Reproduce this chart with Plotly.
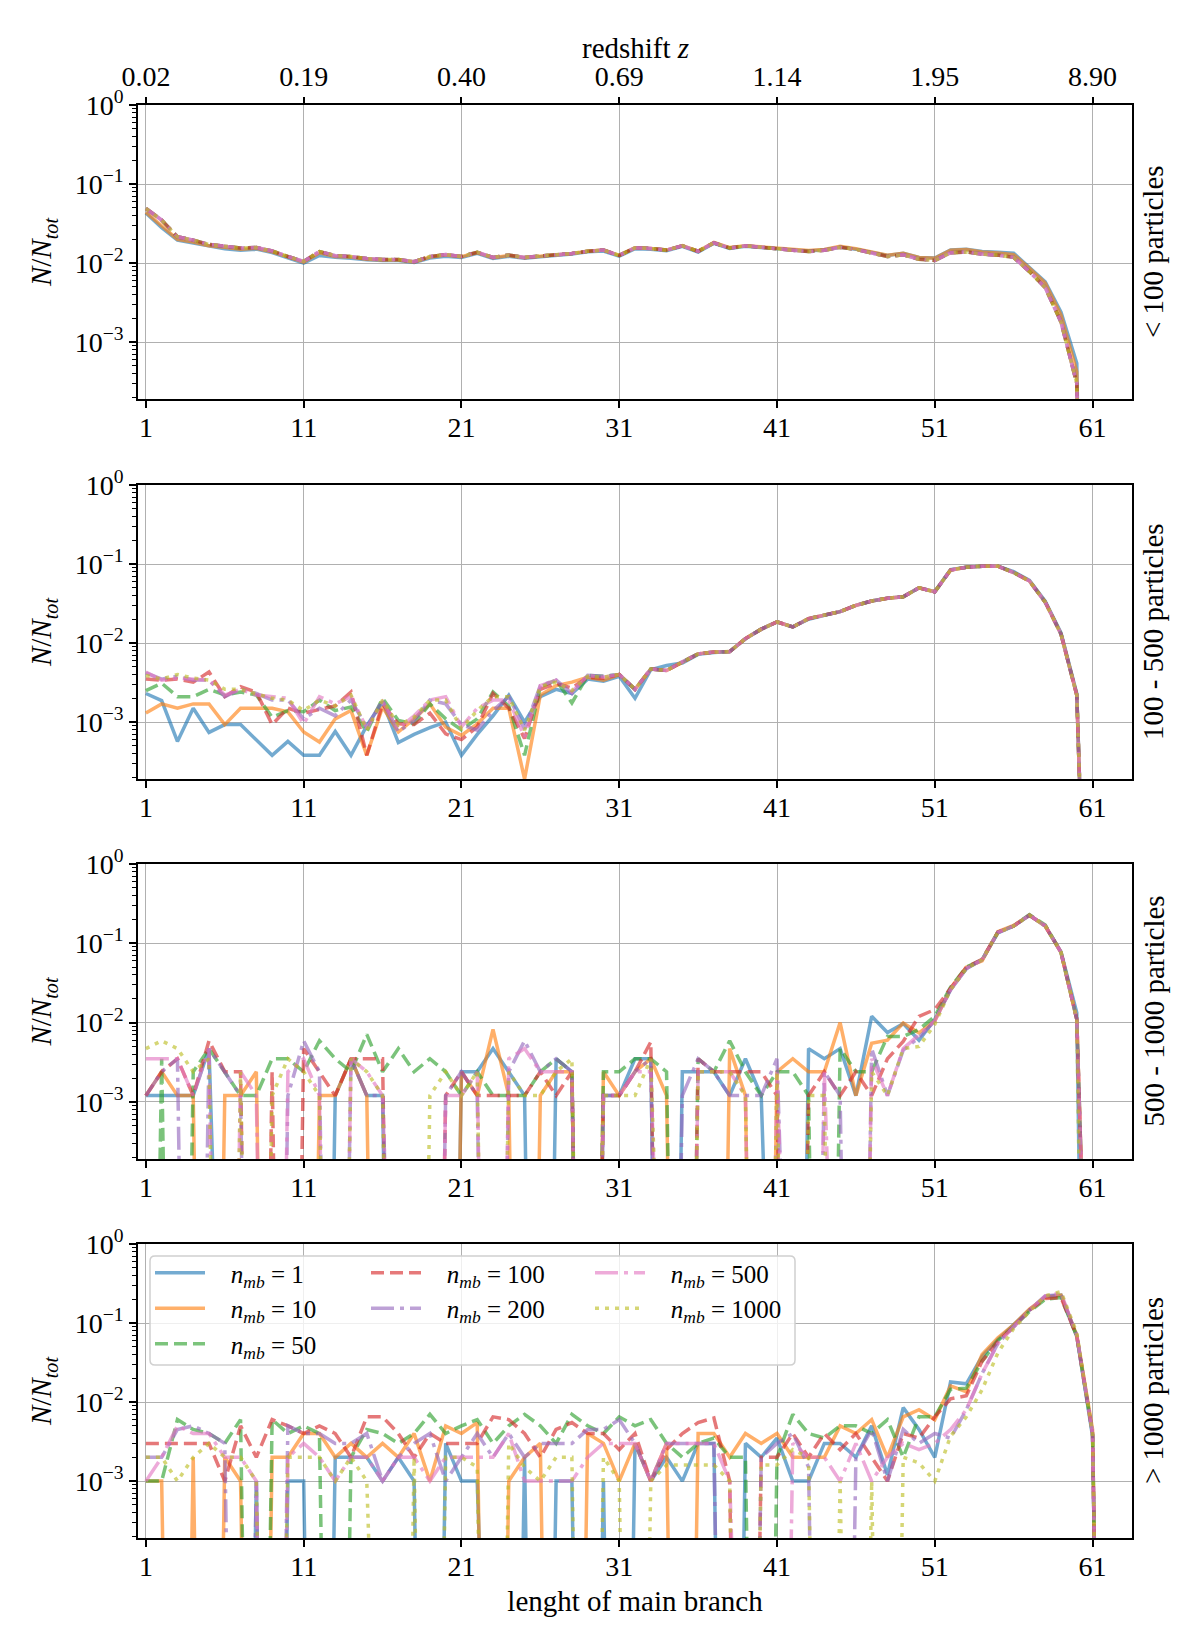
import plotly.graph_objects as go

# ---------------- data ----------------
x_len = list(range(1, 63))
x_ticks = [1, 11, 21, 31, 41, 51, 61]
z_labels = ["0.02", "0.19", "0.40", "0.69", "1.14", "1.95", "8.90"]
series_names = ["1", "10", "50", "100", "200", "500", "1000"]
bin_labels = ["&lt; 100 particles", "100 - 500 particles",
              "500 - 1000 particles", "&gt; 1000 particles"]

# panel 1 : < 100 particles
p1_n1 = [.043, .028, .0195, .018, .0163, .0152, .0145, .015, .0136, .0118,
         .0100, .0125, .0118, .0115, .0110, .0108, .0108, .0102, .0116, .0122,
         .0118, .0133, .0114, .0122, .0115, .0120, .0124, .0130, .0139, .0142,
         .0122, .0152, .0150, .0143, .0163, .0138, .0178, .0153, .0163, .0158,
         .0152, .0147, .0142, .0147, .0160, .0150, .0137, .0125, .0133, .0118,
         .0116, .0146, .0150, .0140, .0137, .0133, .0088, .0058, .0024, .00054,
         0, 0]
p1_n10 = [.044, .030, .0200, .0185, .0166, .0158, .0150, .0154, .0139, .0120,
          .0103, .0135, .0121, .0119, .0112, .0109, .0109, .0103, .0119, .0126,
          .0120, .0136, .0117, .0125, .0117, .0122, .0126, .0132, .0141, .0146,
          .0125, .0156, .0153, .0146, .0166, .0141, .0182, .0157, .0166, .0161,
          .0155, .0149, .0144, .0149, .0163, .0152, .0138, .0126, .0133, .0118,
          .0115, .0145, .0148, .0138, .0134, .0128, .0086, .0056, .0022, .00042,
          0, 0]
p1_rest = [.049, .035, .0215, .0195, .0172, .0162, .0155, .0157, .0142, .0121,
           .0105, .0140, .0124, .0121, .0114, .0111, .0111, .0104, .0121, .0128,
           .0121, .0137, .0118, .0126, .0118, .0123, .0126, .0132, .0141, .0146,
           .0125, .0156, .0153, .0146, .0165, .0141, .0180, .0155, .0165, .0160,
           .0152, .0145, .0140, .0145, .0158, .0149, .0133, .0121, .0127, .0112,
           .0108, .0135, .0138, .0130, .0126, .0118, .0078, .0049, .0018, .00030,
           0, 0]

# panel 2 : 100 - 500 particles (x = 1..30 per series, x = 31..62 tail)
p2_head_n1 = [.0023, .00187, .00057, .0015, .00074, .00093, .00093, .00059, .00038, .00057,
              .00038, .00038, .00076, .00038, .0009, .0018, .00055, .0007, .00085, .001,
              .00038, .0007, .0012, .0022, .001, .0021, .0026, .0023, .0035, .0033]
p2_head_n10 = [.0013, .0017, .0015, .0017, .0017, .00093, .0015, .0015, .0015, .00135,
               .00075, .00056, .0011, .0014, .00038, .00155, .00075, .0011, .0017, .00086,
               .00068, .00095, .0015, .0015, .00019, .0022, .0029, .0032, .0037, .0034]
p2_head_n50 = [.0025, .0031, .0021, .0021, .0026, .0022, .0024, .0022, .00115, .0014,
               .00135, .0019, .0014, .00155, .00075, .002, .00105, .00095, .0017, .0011,
               .0008, .0011, .0024, .0016, .00038, .0028, .0034, .00175, .0039, .0038]
p2_head_n100 = [.0035, .0034, .0035, .0032, .0043, .0021, .0028, .0024, .00093, .0015,
                .0013, .00145, .0016, .0024, .00038, .0017, .00095, .00093, .0013, .00071,
                .0006, .00087, .0023, .0015, .00062, .0026, .0031, .0027, .0037, .0036]
p2_head_n200 = [.0042, .0035, .0038, .0034, .0034, .0021, .0026, .0023, .0019, .0019,
                .0011, .0015, .0012, .0019, .00086, .0019, .00075, .00105, .0019, .0017,
                .00093, .00079, .0014, .0021, .00082, .0029, .0034, .0023, .0039, .0038]
p2_head_n500 = [.0043, .0034, .0036, .0035, .0034, .0022, .0026, .0022, .0021, .002,
                .00095, .0021, .0017, .0021, .00083, .0018, .00083, .0012, .0019, .0021,
                .00087, .0015, .0019, .0019, .00065, .0029, .0034, .0024, .0039, .0037]
p2_head_n1000 = [.0039, .0035, .004, .0036, .0034, .0026, .0026, .0023, .002, .0019,
                 .0014, .0019, .0016, .0022, .00079, .0019, .00091, .00115, .0019, .0019,
                 .00083, .0014, .0021, .0021, .00079, .0028, .0032, .0025, .0038, .0037]
p2_tail_n1 = [.0038, .0020, .0046, .0052, .0056, .0072, .0076, .0078, .0113, .0150,
              .0185, .0160, .0200, .0225, .0250, .0300, .0340, .0370, .0385, .0500,
              .0445, .0850, .0910, .0940, .0940, .0800, .0620, .0340, .0135, .0023,
              0, 0]
p2_tail = [.0040, .0026, .0047, .0045, .0058, .0073, .0077, .0078, .0114, .0150,
           .0185, .0160, .0204, .0225, .0250, .0300, .0340, .0370, .0385, .0500,
           .0445, .0840, .0910, .0940, .0940, .0780, .0610, .0330, .0130, .0022,
           0, 0]

# panel 3 : 500 - 1000 particles
p3_n1 = [.0012, .0012, .0012, .0012, .0047, 0, 0, 0, 0, 0,
         0, 0, .0012, .0035, .0012, .0012, 0, 0, 0, 0,
         .0024, .0024, .0047, .0024, .0012, 0, .0035, .0024, 0, .0012,
         .0012, .0035, .0035, 0, .0024, .0024, .0024, .0012, .0035, .0012,
         0, 0, .0047, .0035, .0047, .0012, .012, .0075, .0097, .006,
         .011, .026, .048, .062, .135, .165, .225, .165, .078, .0133,
         0, 0]
p3_n10 = [.0012, .0024, .0012, .0012, 0, .0012, .0012, .0024, 0, 0,
          0, .0012, .0012, .0035, .0012, 0, 0, 0, 0, 0,
          .0024, .0012, .0082, .0012, 0, .0012, .0024, .0024, 0, .0024,
          .0012, .0024, .0035, .0012, 0, 0, 0, .0047, .0012, 0,
          .0024, .0035, .0024, .0024, .010, .0012, .0055, .006, .0099, .0074,
          .0105, .027, .05, .06, .14, .168, .225, .165, .077, .011,
          0, 0]
p3_n50 = [0, .0035, 0, .0024, .0047, .0024, .0012, .0012, .0035, .0035,
          .0024, .0059, .0035, .0024, .0071, .0024, .0047, .0024, .0035, .0024,
          .0012, .0024, .0012, .0012, .0012, .0024, .0035, .0024, 0, .0024,
          .0024, .0035, .0035, .0024, 0, .0035, .0024, .0059, .0024, .0012,
          .0024, .0024, .0012, 0, .0047, .0024, .0024, .0067, .0067, .0082,
          .012, .028, .05, .062, .138, .165, .23, .17, .077, .011,
          0, 0]
p3_n100 = [.0012, .0024, .0035, .0012, .0059, .0024, .0024, 0, .0024, 0,
           .0047, .0024, .0012, .0035, .0035, .0035, 0, 0, 0, .0012,
           .0024, .0012, .0012, .0012, .0012, .0024, .0012, .0024, 0, .0012,
           .0012, .0024, .0057, 0, 0, .0035, .0024, .0024, .0024, .0024,
           .0012, 0, .0012, .0024, .0012, .0024, .0012, .0035, .0058, .012,
           .0146, .027, .05, .063, .138, .165, .226, .166, .077, .011,
           0, 0]
p3_n200 = [.0012, .0024, .0035, 0, .0047, .0024, .0012, 0, 0, .0012,
           .0059, .0024, 0, .0035, .0012, .0012, 0, 0, 0, .0012,
           .0024, .0012, 0, .0024, .0059, .0024, .0035, .0024, 0, .0012,
           .0012, .0024, .0035, 0, .0012, .0035, .0024, .0012, .0012, .0012,
           .0035, 0, 0, .0024, .0012, 0, .0047, .0012, .0045, .0065,
           .0105, .026, .048, .062, .137, .165, .227, .166, .077, .011,
           0, 0]
p3_n500 = [.0035, .0035, .0035, .0012, .0047, 0, .0024, .0012, 0, .0024,
           .0035, .0012, 0, .0035, .0024, .0012, 0, 0, 0, .0012,
           .0012, .0024, 0, .0035, .0047, .0024, .0024, .0024, 0, .0012,
           .0012, .0024, .0024, 0, 0, .0024, .0024, .0024, .0012, 0,
           .0024, 0, 0, .0024, 0, 0, .0035, .0012, .0047, .007,
           .0105, .026, .048, .062, .137, .165, .226, .166, .077, .011,
           0, 0]
p3_n1000 = [.0047, .0059, .0047, .0024, .0035, 0, .0024, 0, .0012, .0035,
            .0024, .0012, 0, .0035, .0024, .0012, 0, 0, .0012, .0024,
            .0012, .0024, 0, .0024, .0012, .0012, .0024, .0035, 0, .0012,
            .0012, .0012, .0035, 0, 0, .0024, .0024, .0024, .0012, 0,
            .0024, 0, .0012, .0012, 0, 0, .0024, .0012, .0047, .005,
            .0095, .026, .048, .062, .137, .165, .226, .166, .077, .011,
            0, 0]

# panel 4 : > 1000 particles
p4_n1 = [0, 0, 0, 0, 0, 0, 0, .001, 0, .001,
         .001, 0, .002, .002, .002, .001, .002, .001, 0, .003,
         .001, .001, 0, 0, .002, 0, .001, .001, 0, .001,
         0, .003, .001, .002, .001, .003, .003, 0, .003, .002,
         .0035, .001, .001, .003, .003, .002, .005, .0012, .0085, .0045,
         .002, .018, .017, .038, .062, .095, .147, .215, .225, .068,
         .0037, 0]
p4_n10 = [.001, .001, 0, .002, 0, .002, .001, 0, .002, .002,
          .004, .004, .002, .003, .002, .003, .002, .004, .001, .005,
          .004, .0055, 0, .001, .002, .003, 0, 0, .004, .003,
          .001, .003, .001, .003, 0, .004, .004, .002, .004, .003,
          .004, .002, .002, .002, .005, .004, .006, .002, .0065, .008,
          .006, .016, .0135, .04, .065, .095, .15, .21, .225, .07,
          .0045, 0]
p4_n50 = [.001, .001, .006, .0045, .004, .003, .006, 0, .006, .004,
          .005, .004, 0, .002, .0045, .004, .003, .004, .007, .004,
          .005, .006, .003, .005, .007, .005, .003, .007, .005, .004,
          .0065, .005, .006, .003, .002, .003, .0035, .002, .002, 0,
          .002, .007, .004, .0035, .005, .005, .004, .006, .002, .0065,
          .0065, .0145, .015, .033, .06, .09, .14, .2, .21, .068,
          .004, 0]
p4_n100 = [.003, .003, .003, .003, .003, .001, .005, .002, .006, .005,
           .004, .005, .004, .002, .0065, .0065, .004, .002, .004, .003,
           .003, .003, .0065, .006, .004, .002, .0045, .0055, .004, .004,
           .0025, .004, .001, .0025, .004, .0055, .0063, .001, 0, .002,
           .002, .004, .002, .004, .0025, .004, .002, .001, .004, .0035,
           .0065, .011, .012, .033, .058, .09, .145, .205, .21, .068,
           .004, 0]
p4_n200 = [.002, .002, .0045, .005, .004, .003, 0, .001, 0, .005,
           .004, .004, .003, .003, .004, .001, .002, .003, .004, .001,
           .002, .004, .002, .004, .002, .003, .003, .003, .0045, .0045,
           .006, .003, .001, .003, .003, .003, .003, 0, 0, .002,
           .003, .004, .0015, 0, 0, .002, .0045, .001, .0045, .003,
           .004, .0035, .008, .023, .055, .09, .145, .22, .23, .07,
           .004, 0]
p4_n500 = [.001, .002, .005, .004, .004, .002, .002, .001, 0, .002,
           .003, .002, .001, .002, .002, .001, .002, .002, .001, .002,
           .002, .002, .002, .004, .001, .001, .001, .001, .002, .003,
           .003, .003, .001, .003, .003, .003, .003, .001, 0, 0,
           0, .003, .002, .002, .001, .003, .001, .002, .003, .0025,
           .003, .0045, .008, .023, .055, .09, .145, .22, .24, .07,
           .004, 0]
p4_n1000 = [.002, .002, .001, .002, .003, .002, .002, .001, 0, .002,
            .002, .002, .001, .002, .001, 0, 0, .002, 0, .002,
            .002, .0015, 0, .003, .0015, .001, .002, .002, 0, .002,
            .001, 0, .001, .0016, .0016, .0016, .0016, .001, 0, .0016,
            .0016, .0025, .002, 0, .001, 0, .001, 0, .002, .0017,
            .001, .0037, .0065, .0143, .042, .085, .14, .22, .25, .075,
            .004, 0]

panels = [
    [p1_n1, p1_n10, p1_rest, p1_rest, p1_rest, p1_rest, p1_rest],
    [p2_head_n1 + p2_tail_n1, p2_head_n10 + p2_tail, p2_head_n50 + p2_tail,
     p2_head_n100 + p2_tail, p2_head_n200 + p2_tail, p2_head_n500 + p2_tail,
     p2_head_n1000 + p2_tail],
    [p3_n1, p3_n10, p3_n50, p3_n100, p3_n200, p3_n500, p3_n1000],
    [p4_n1, p4_n10, p4_n50, p4_n100, p4_n200, p4_n500, p4_n1000],
]

# ---------------- style ----------------
colors = ["#1f77b4", "#ff7f0e", "#2ca02c", "#d62728", "#9467bd", "#e377c2", "#bcbd22"]
dashes = ["solid", "solid", "13px,6px", "13px,6px", "23px,6px,4px,6px",
          "23px,6px,4px,6px", "4px,6px"]
legend_of = ["legend", "legend", "legend", "legend2", "legend2", "legend3", "legend3"]
FONT = "Liberation Serif"
FS = 28       # tick labels
FS_T = 29     # titles / side labels
W, H = 1200, 1650
FLOOR = 1e-15  # matplotlib clips non-positive values on a log axis

panel_px = [(105, 399), (485, 779), (864, 1159), (1244, 1538)]
x_dom = [138 / W, 1132 / W]
x_range = [0.5, 63.5]
y_range = [-3.72, 0]

fig = go.Figure()
for p, data in enumerate(panels):
    for s, vals in enumerate(data):
        yv = [v if v > 0 else FLOOR for v in vals]
        fig.add_trace(go.Scatter(
            x=x_len, y=yv, mode="lines",
            xaxis="x" if p == 0 else f"x{p+1}",
            yaxis="y" if p == 0 else f"y{p+1}",
            line=dict(color=colors[s], width=3.5, dash=dashes[s]),
            opacity=0.62,
            name=f"\u2002\u2004<i>n</i><sub><i>mb</i></sub> = {series_names[s]}",
            showlegend=(p == 3),
            legend=legend_of[s],
            hoverinfo="skip",
        ))

# invisible helper so the top redshift axis is rendered
fig.add_trace(go.Scatter(x=x_ticks, y=[p1_rest[t - 1] for t in x_ticks],
                         xaxis="x5", yaxis="y", mode="markers",
                         marker=dict(opacity=0), showlegend=False,
                         hoverinfo="skip"))

minor_vals = [m * 10 ** e for e in range(-4, 0) for m in range(2, 10)]
tick_font = dict(family=FONT, size=FS, color="black")
layout = dict(
    width=W, height=H,
    margin=dict(l=0, r=0, t=0, b=0),
    paper_bgcolor="white", plot_bgcolor="white",
    font=dict(family=FONT, size=FS, color="black"),
    showlegend=True,
)
for p, (top, bot) in enumerate(panel_px):
    k = "" if p == 0 else str(p + 1)
    ydom = [1 - bot / H, 1 - top / H]
    layout[f"xaxis{k}"] = dict(
        domain=x_dom, range=x_range, anchor=f"y{k}",
        tickmode="array", tickvals=x_ticks, ticktext=[str(t) for t in x_ticks],
        ticks="outside", ticklen=7, tickwidth=1.6, tickcolor="black",
        ticklabelstandoff=-5,
        showline=True, linecolor="black", linewidth=1.8, mirror=True,
        showgrid=True, gridcolor="#b0b0b0", gridwidth=1.4, zeroline=False,
        tickfont=tick_font, automargin=False,
    )
    layout[f"yaxis{k}"] = dict(
        domain=ydom, type="log", range=y_range, anchor=f"x{k}",
        tickmode="array", tickvals=[1, 0.1, 0.01, 0.001],
        ticktext=["10<sup>0</sup>", "10<sup>−1</sup>", "10<sup>−2</sup>", "10<sup>−3</sup>"],
        ticks="outside", ticklen=7, tickwidth=1.6, tickcolor="black",
        minor=dict(tickmode="array", tickvals=minor_vals, ticks="outside",
                   ticklen=4, tickwidth=1.2, tickcolor="black", showgrid=False),
        showline=True, linecolor="black", linewidth=1.8, mirror=True,
        showgrid=True, gridcolor="#b0b0b0", gridwidth=1.4, zeroline=False,
        tickfont=tick_font, automargin=False,
        title=dict(text="<i>N</i>/<i>N</i><sub><i>tot</i></sub>",
                   font=dict(family=FONT, size=FS_T), standoff=14),
    )
layout["xaxis4"]["title"] = dict(text="lenght of main branch",
                                 font=dict(family=FONT, size=FS_T), standoff=10)
layout["xaxis5"] = dict(
    overlaying="x", side="top", anchor="y", range=x_range,
    tickmode="array", tickvals=x_ticks, ticktext=z_labels,
    ticks="outside", ticklen=7, tickwidth=1.6, tickcolor="black",
    ticklabelstandoff=0,
    showline=False, showgrid=False, zeroline=False,
    tickfont=tick_font, automargin=False,
)

leg_common = dict(bgcolor="rgba(0,0,0,0)", borderwidth=0, orientation="v",
                  xanchor="left", yanchor="top", tracegroupgap=0,
                  itemwidth=50,
                  font=dict(family=FONT, size=25, color="black"),
                  xref="paper", yref="paper")
leg_top = 1 - 1250 / H
layout["legend"] = dict(leg_common, x=150 / W, y=leg_top)
layout["legend2"] = dict(leg_common, x=366 / W, y=leg_top)
layout["legend3"] = dict(leg_common, x=590 / W, y=leg_top)

# legend frame (rounded rectangle)
x0, x1, y0, y1 = 150 / W, 795 / W, 1 - 1365 / H, 1 - 1256 / H
rx, ry = 5 / W, 5 / H
frame = (f"M{x0+rx},{y1} L{x1-rx},{y1} Q{x1},{y1} {x1},{y1-ry} "
         f"L{x1},{y0+ry} Q{x1},{y0} {x1-rx},{y0} L{x0+rx},{y0} "
         f"Q{x0},{y0} {x0},{y0+ry} L{x0},{y1-ry} Q{x0},{y1} {x0+rx},{y1} Z")
layout["shapes"] = [dict(type="path", path=frame, xref="paper", yref="paper",
                         fillcolor="rgba(255,255,255,0.8)",
                         line=dict(color="#d0d0d0", width=1.5), layer="above")]

annotations = [
    dict(text=bin_labels[p], x=1153 / W, y=1 - (top + bot) / 2 / H,
         xref="paper", yref="paper", showarrow=False, textangle=-90,
         xanchor="center", yanchor="middle",
         font=dict(family=FONT, size=FS_T, color="black"))
    for p, (top, bot) in enumerate(panel_px)
]
annotations.append(dict(text="redshift <i>z</i>", x=(x_dom[0] + x_dom[1]) / 2,
                        y=1 - 48 / H, xref="paper", yref="paper",
                        showarrow=False, xanchor="center", yanchor="middle",
                        font=dict(family=FONT, size=FS_T, color="black")))
layout["annotations"] = annotations

fig.update_layout(**layout)
fig.write_html("out.html")
